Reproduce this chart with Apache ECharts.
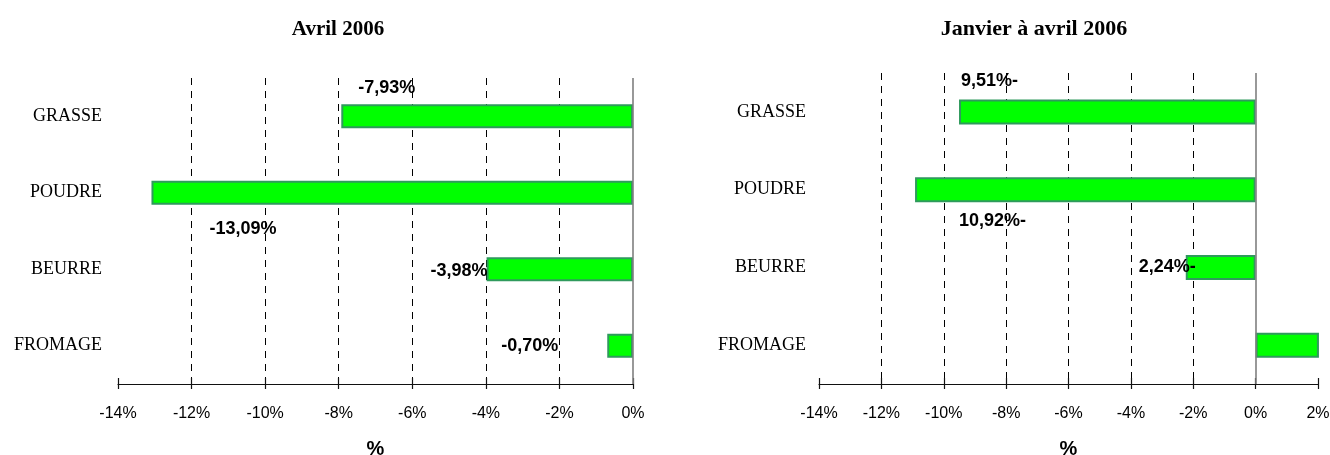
<!DOCTYPE html>
<html>
<head>
<meta charset="utf-8">
<script src="https://cdn.jsdelivr.net/npm/echarts@6/dist/echarts.min.js"></script>
<style>
  html, body { margin: 0; padding: 0; background: #fff; }
  #chart { width: 1330px; height: 455px; }
</style>
</head>
<body>
<div id="chart"></div>
<script>
// ---- data ----
const categories = ['GRASSE', 'POUDRE', 'BEURRE', 'FROMAGE'];
const avril2006 = [-7.93, -13.09, -3.98, -0.70];
const janvierAvril2006 = [-9.51, -10.92, -2.24, 2.03];
const titleLeft = 'Avril 2006';
const titleRight = 'Janvier à avril 2006';
const axisName = '%';
const leftAxisRange = { min: -14, max: 0, interval: 2 };
const rightAxisRange = { min: -14, max: 2, interval: 2 };

// ---- label placement (style, not data) ----
const leftLabelOffsets = [[74, -28], [125, 36], [1, 2], [-49, 0]];
const rightLabelOffsets = [[59, -31], [111, 31], [10, 0], null];

const serif = 'Liberation Serif';
const sans = 'Liberation Sans';
const barFill = '#00ff00';
const barBorder = '#2f9a5c';

function fmtLeft(v) { return v.toFixed(2).replace('.', ',') + '%'; }
function fmtRight(v) { return Math.abs(v).toFixed(2).replace('.', ',') + '%-'; }

function gridColors(range, hideIdx) {
  const n = Math.round((range.max - range.min) / range.interval) + 1;
  const arr = [];
  for (let i = 0; i < n; i++) arr.push(hideIdx.includes(i) ? 'rgba(0,0,0,0)' : '#000');
  return arr;
}

function mainXAxis(gridIndex, range, colors) {
  return {
    type: 'value', gridIndex, position: 'bottom',
    min: range.min, max: range.max, interval: range.interval,
    name: axisName, nameLocation: 'middle', nameGap: 55,
    nameTextStyle: { fontFamily: sans, fontWeight: 'bold', fontSize: 20, color: '#000' },
    axisLine: { show: true, onZero: false, lineStyle: { color: '#111', width: 1.2 } },
    axisTick: { show: true, inside: false, length: 5, lineStyle: { color: '#111', width: 1.2 } },
    axisLabel: { show: true, margin: 22, fontFamily: sans, fontSize: 16, color: '#000',
      formatter: v => v + '%' },
    splitLine: { show: true, lineStyle: { color: colors, type: [7, 6], width: 1 } }
  };
}
function tickXAxis(gridIndex, range) {
  return {
    type: 'value', gridIndex, position: 'bottom',
    min: range.min, max: range.max, interval: range.interval,
    axisLine: { show: false, onZero: false },
    axisTick: { show: true, inside: true, length: 6, lineStyle: { color: '#111', width: 1.2 } },
    axisLabel: { show: false },
    splitLine: { show: false }
  };
}
function catYAxis(gridIndex, margin) {
  return {
    type: 'category', gridIndex, data: categories, inverse: true,
    axisLine: { show: false, onZero: false },
    axisTick: { show: false },
    axisLabel: { margin, fontFamily: serif, fontSize: 18, color: '#000' },
    splitLine: { show: false }
  };
}
function barSeries(xi, yi, values, fmt, offsets, barWidth) {
  return {
    type: 'bar', xAxisIndex: xi, yAxisIndex: yi, barWidth,
    data: values.map((v, i) => ({
      value: v,
      label: offsets[i] ? {
        show: true, position: 'left', distance: 0, offset: offsets[i],
        formatter: () => fmt(v),
        fontFamily: sans, fontWeight: 'bold', fontSize: 18, color: '#000'
      } : { show: false }
    })),
    itemStyle: { color: barFill, borderColor: barBorder, borderWidth: 2 },
    emphasis: { disabled: true },
    markLine: {
      silent: true, symbol: 'none', label: { show: false },
      lineStyle: { color: '#7f7f7f', width: 1.6, type: 'solid' },
      emphasis: { disabled: true },
      data: [{ xAxis: 0 }]
    },
    z: 3
  };
}

const chart = echarts.init(document.getElementById('chart'), null, { renderer: 'canvas' });
chart.setOption({
  animation: false,
  backgroundColor: '#fff',
  title: [
    { text: titleLeft, left: 333, top: 14, textAlign: 'center',
      textStyle: { fontFamily: serif, fontWeight: 'bold', fontSize: 21, color: '#000' } },
    { text: titleRight, left: 1029, top: 13, textAlign: 'center',
      textStyle: { fontFamily: serif, fontWeight: 'bold', fontSize: 22, color: '#000' } }
  ],
  grid: [
    { left: 118, right: 697, top: 78, bottom: 71, containLabel: false, outerBoundsMode: 'none' },
    { left: 819, right: 12, top: 73, bottom: 71, containLabel: false, outerBoundsMode: 'none' }
  ],
  xAxis: [
    mainXAxis(0, leftAxisRange, gridColors(leftAxisRange, [0, 7])),
    tickXAxis(0, leftAxisRange),
    mainXAxis(1, rightAxisRange, gridColors(rightAxisRange, [0, 7, 8])),
    tickXAxis(1, rightAxisRange)
  ],
  yAxis: [catYAxis(0, 16), catYAxis(1, 13)],
  series: [
    barSeries(0, 0, avril2006, fmtLeft, leftLabelOffsets, 24),
    barSeries(2, 1, janvierAvril2006, fmtRight, rightLabelOffsets, 25)
  ]
});
</script>
</body>
</html>
